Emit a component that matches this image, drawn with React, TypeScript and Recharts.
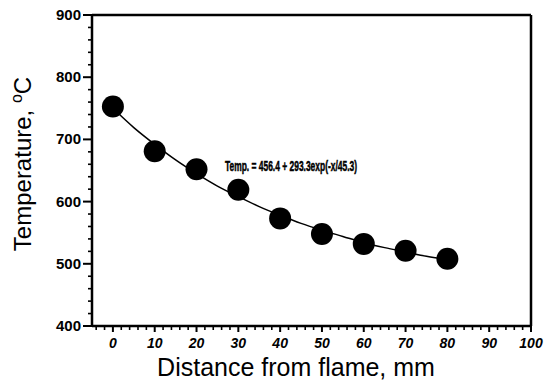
import React from 'react';
import { ComposedChart, Line, Scatter, XAxis, YAxis, ReferenceLine } from 'recharts';

// measured points
const distances = [0, 10, 20, 30, 40, 50, 60, 70, 80];
const temperatures = [753, 681, 652, 619, 573, 548, 532, 521, 508];

// fitted curve
const fitDistances = [0, 5, 10, 15, 20, 25, 30, 35, 40, 45, 50, 55, 60, 65, 70, 75, 80];
const fitTemperatures = [750, 719, 692, 667, 645, 625, 608, 592, 578, 565, 554, 544, 534, 526, 519, 512, 507];

const xMajorTicks = [0, 10, 20, 30, 40, 50, 60, 70, 80, 90, 100];
const xAllTicks = [-4, -2, 0, 2, 4, 6, 8, 10, 12, 14, 16, 18, 20, 22, 24, 26, 28, 30, 32, 34, 36, 38, 40, 42, 44, 46, 48, 50, 52, 54, 56, 58, 60, 62, 64, 66, 68, 70, 72, 74, 76, 78, 80, 82, 84, 86, 88, 90, 92, 94, 96, 98, 100];
const yMajorTicks = [400, 500, 600, 700, 800, 900];
const yAllTicks = [400, 420, 440, 460, 480, 500, 520, 540, 560, 580, 600, 620, 640, 660, 680, 700, 720, 740, 760, 780, 800, 820, 840, 860, 880, 900];

const fitLabel = 'Temp. = 456.4 + 293.3exp(-x/45.3)';

const points = distances.map((d, i) => ({ x: d, y: temperatures[i] }));
const fitData = fitDistances.map((d, i) => ({ x: d, fit: fitTemperatures[i] }));

const font = 'Arial, "Liberation Sans", sans-serif';

function XTick(props: any) {
  const { x, y, payload } = props;
  const major = xMajorTicks.includes(payload.value);
  return (
    <g>
      <line x1={x} y1={y} x2={x} y2={y + (major ? 6 : 4)} stroke="#000" strokeWidth={major ? 2 : 1.6} />
      {major && (
        <text x={x} y={y + 22} textAnchor="middle" fontSize={14} fontWeight="bold" fontStyle="italic" fontFamily={font} fill="#000">
          {payload.value}
        </text>
      )}
    </g>
  );
}

function YTick(props: any) {
  const { x, y, payload } = props;
  const major = yMajorTicks.includes(payload.value);
  return (
    <g>
      <line x1={x} y1={y} x2={x - (major ? 9 : 4)} y2={y} stroke="#000" strokeWidth={major ? 2 : 1.6} />
      {major && (
        <text x={x - 11} y={y + 5} textAnchor="end" fontSize={15} fontWeight="bold" fontFamily={font} fill="#000">
          {payload.value}
        </text>
      )}
    </g>
  );
}

export default function App() {
  return (
    <div style={{ position: 'absolute', left: 0, top: 0, width: 545, height: 382, background: '#fff' }}>
      <ComposedChart width={545} height={382} margin={{ top: 15, right: 14, left: 0, bottom: 0 }}>
        <XAxis
          type="number"
          dataKey="x"
          domain={[-5, 100]}
          ticks={xAllTicks}
          interval={0}
          tickSize={0}
          tickMargin={0}
          height={56}
          axisLine={{ stroke: '#000', strokeWidth: 2.5 }}
          tickLine={false}
          tick={<XTick />}
          allowDataOverflow
          label={{
            content: () => (
              <text x={296} y={376} textAnchor="middle" fontSize={25} fontFamily={font} fill="#000">
                Distance from flame, mm
              </text>
            ),
          }}
        />
        <YAxis
          type="number"
          domain={[400, 900]}
          ticks={yAllTicks}
          interval={0}
          tickSize={0}
          tickMargin={0}
          width={92}
          axisLine={{ stroke: '#000', strokeWidth: 2.5 }}
          tickLine={false}
          tick={<YTick />}
          allowDataOverflow
          label={{
            content: () => (
              <text
                x={31}
                y={164}
                textAnchor="middle"
                fontSize={24}
                fontFamily={font}
                fill="#000"
                transform="rotate(-90 31 164)"
              >
                Temperature, <tspan fontSize={16} dy={-9}>o</tspan>
                <tspan dy={9}>C</tspan>
              </text>
            ),
          }}
        />
        <ReferenceLine y={900} stroke="#000" strokeWidth={2.5} ifOverflow="visible" />
        <ReferenceLine x={100} stroke="#000" strokeWidth={2.5} ifOverflow="visible" />
        <Line
          data={fitData}
          dataKey="fit"
          type="monotone"
          stroke="#000"
          strokeWidth={1.5}
          dot={false}
          isAnimationActive={false}
        />
        <Scatter
          data={points}
          dataKey="y"
          fill="#000"
          shape={(p: any) => <circle cx={p.cx} cy={p.cy} r={11} fill="#000" />}
          isAnimationActive={false}
        />
      </ComposedChart>
      <svg width={545} height={382} style={{ position: 'absolute', left: 0, top: 0, pointerEvents: 'none' }}>
        <text
          x={225}
          y={171}
          fontSize={15}
          fontWeight="bold"
          fontFamily={font}
          textLength={132}
          lengthAdjust="spacingAndGlyphs"
          fill="#000"
          stroke="#000"
          strokeWidth={0.5}
        >
          {fitLabel}
        </text>
      </svg>
    </div>
  );
}
